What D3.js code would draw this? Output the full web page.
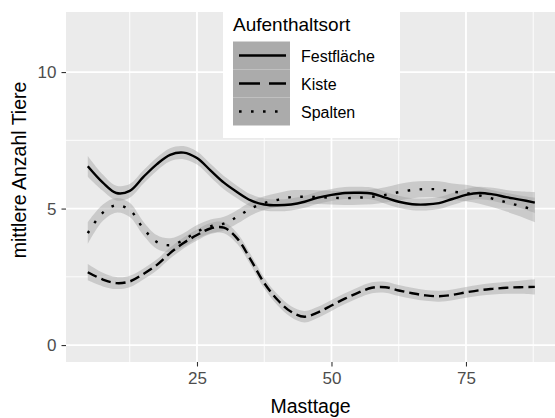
<!DOCTYPE html>
<html>
<head>
<meta charset="utf-8">
<script src="https://cdn.jsdelivr.net/npm/d3@7"></script>
<style>
    body { margin: 0; background: #fff; }
    svg { display: block; font-family: 'Liberation Sans', Arial, sans-serif; }
</style>
</head>
<body>
<div id="chart"></div>
<script>
const masttage = [4.7, 7.5, 10, 12.5, 15, 17.5, 20, 22.5, 25, 27.5, 30, 32.5, 35, 37.5, 40, 42.5, 45,
    47.5, 50, 52.5, 55, 57.5, 60, 62.5, 65, 67.5, 70, 72.5, 75, 77.5, 80, 82.5, 85, 87.8];

const festflaeche = [6.55, 5.95, 5.57, 5.65, 6.15, 6.62, 6.97, 7.05, 6.85, 6.4, 5.95, 5.6, 5.3, 5.15, 5.12, 5.15, 5.25,
    5.4, 5.5, 5.57, 5.58, 5.55, 5.4, 5.25, 5.16, 5.15, 5.2, 5.35, 5.5, 5.57, 5.52, 5.42, 5.33, 5.22];
const festflaecheSe = [0.38, 0.3, 0.27, 0.25, 0.24, 0.24, 0.24, 0.24, 0.24, 0.24, 0.24, 0.23, 0.22, 0.22, 0.22, 0.22, 0.22,
    0.22, 0.22, 0.22, 0.22, 0.22, 0.22, 0.22, 0.22, 0.22, 0.22, 0.22, 0.22, 0.23, 0.24, 0.26, 0.3, 0.38];

const kiste = [2.67, 2.4, 2.27, 2.33, 2.6, 2.93, 3.37, 3.74, 4.03, 4.27, 4.3, 3.9, 3.12, 2.27, 1.65, 1.22, 1.04,
    1.2, 1.45, 1.7, 1.92, 2.1, 2.12, 2.0, 1.9, 1.82, 1.79, 1.84, 1.93, 2.01, 2.06, 2.1, 2.12, 2.13];
const kisteSe = [0.3, 0.25, 0.22, 0.21, 0.2, 0.2, 0.2, 0.2, 0.2, 0.2, 0.2, 0.2, 0.2, 0.2, 0.2, 0.2, 0.21,
    0.2, 0.2, 0.2, 0.2, 0.2, 0.2, 0.2, 0.2, 0.2, 0.2, 0.2, 0.2, 0.2, 0.21, 0.22, 0.24, 0.28];

const spalten = [4.1, 4.85, 5.12, 4.95, 4.28, 3.78, 3.66, 3.85, 4.15, 4.35, 4.45, 4.7, 5.0, 5.2, 5.32, 5.42, 5.43,
    5.42, 5.4, 5.38, 5.4, 5.43, 5.5, 5.6, 5.68, 5.71, 5.7, 5.62, 5.57, 5.48, 5.36, 5.23, 5.1, 4.95];
const spaltenSe = [0.4, 0.3, 0.27, 0.26, 0.25, 0.25, 0.25, 0.25, 0.25, 0.25, 0.25, 0.25, 0.25, 0.25, 0.25, 0.25, 0.25,
    0.25, 0.25, 0.25, 0.26, 0.27, 0.28, 0.3, 0.3, 0.3, 0.3, 0.3, 0.3, 0.3, 0.31, 0.34, 0.38, 0.45];

const seriesNames = ['Festfläche', 'Kiste', 'Spalten'];
const xTicks = [25, 50, 75];
const yTicks = [0, 5, 10];
const xMinor = [12.5, 37.5, 62.5, 87.5];
const yMinor = [2.5, 7.5];

const series = [
    { name: seriesNames[0], values: festflaeche, se: festflaecheSe, dash: null, legendDash: null },
    { name: seriesNames[1], values: kiste, se: kisteSe, dash: '10,5', legendDash: '21,9' },
    { name: seriesNames[2], values: spalten, se: spaltenSe, dash: '2.6,9.4', legendDash: '2.6,9.4' }
];

function drawChart() {
    const width = 555;
    const height = 418;
    const panel = { left: 66, right: 555, top: 12, bottom: 362 };

    const svg = d3.select('#chart').append('svg')
        .attr('width', width)
        .attr('height', height);

    const x = d3.scaleLinear().domain([0.65, 91.55]).range([panel.left, panel.right]);
    const y = d3.scaleLinear().domain([-0.62, 12.2]).range([panel.bottom, panel.top]);

    svg.append('rect')
        .attr('x', panel.left)
        .attr('y', panel.top)
        .attr('width', panel.right - panel.left)
        .attr('height', panel.bottom - panel.top)
        .attr('fill', '#ebebeb');

    // minor grid first, then major
    svg.selectAll('.xminor').data(xMinor).enter().append('line')
        .attr('x1', d => x(d)).attr('x2', d => x(d))
        .attr('y1', panel.top).attr('y2', panel.bottom)
        .attr('stroke', '#fff').attr('stroke-width', 0.9);
    svg.selectAll('.yminor').data(yMinor).enter().append('line')
        .attr('x1', panel.left).attr('x2', panel.right)
        .attr('y1', d => y(d)).attr('y2', d => y(d))
        .attr('stroke', '#fff').attr('stroke-width', 0.9);
    svg.selectAll('.xmajor').data(xTicks).enter().append('line')
        .attr('x1', d => x(d)).attr('x2', d => x(d))
        .attr('y1', panel.top).attr('y2', panel.bottom)
        .attr('stroke', '#fff').attr('stroke-width', 1.8);
    svg.selectAll('.ymajor').data(yTicks).enter().append('line')
        .attr('x1', panel.left).attr('x2', panel.right)
        .attr('y1', d => y(d)).attr('y2', d => y(d))
        .attr('stroke', '#fff').attr('stroke-width', 1.8);

    const area = d3.area()
        .x(d => x(d.x))
        .y0(d => y(d.v - d.se))
        .y1(d => y(d.v + d.se))
        .curve(d3.curveCatmullRom);

    const line = d3.line()
        .x(d => x(d.x))
        .y(d => y(d.v))
        .curve(d3.curveCatmullRom);

    const rows = series.map(s => masttage.map((m, i) => ({ x: m, v: s.values[i], se: s.se[i] })));

    rows.forEach(r => {
        svg.append('path')
            .attr('d', area(r))
            .attr('fill', '#999')
            .attr('fill-opacity', 0.4);
    });

    rows.forEach((r, i) => {
        svg.append('path')
            .attr('d', line(r))
            .attr('fill', 'none')
            .attr('stroke', '#000')
            .attr('stroke-width', 2.4)
            .attr('stroke-dasharray', series[i].dash);
    });

    // axes
    const xAxis = svg.append('g')
        .attr('transform', `translate(0,${panel.bottom})`)
        .call(d3.axisBottom(x).tickValues(xTicks).tickSize(4.5).tickPadding(5));
    const yAxis = svg.append('g')
        .attr('transform', `translate(${panel.left},0)`)
        .call(d3.axisLeft(y).tickValues(yTicks).tickSize(4.5).tickPadding(5));

    [xAxis, yAxis].forEach(a => {
        a.select('.domain').remove();
        a.selectAll('.tick line').attr('stroke', '#333').attr('stroke-width', 1.1);
        a.selectAll('.tick text')
            .attr('fill', '#4d4d4d')
            .style('font-size', '17px')
            .style('font-family', "'Liberation Sans', Arial, sans-serif");
    });

    svg.append('text')
        .attr('x', (panel.left + panel.right) / 2)
        .attr('y', 413)
        .attr('text-anchor', 'middle')
        .style('font-size', '19.5px')
        .text('Masttage');

    svg.append('text')
        .attr('transform', 'translate(26,170) rotate(-90)')
        .attr('text-anchor', 'middle')
        .style('font-size', '19.5px')
        .text('mittlere Anzahl Tiere');

    // legend
    const legend = svg.append('g');
    legend.append('rect')
        .attr('x', 223).attr('y', 0)
        .attr('width', 177).attr('height', 138)
        .attr('fill', '#fff');
    legend.append('text')
        .attr('x', 233).attr('y', 31)
        .style('font-size', '19px')
        .text('Aufenthaltsort');

    const keyH = 28;
    const keyTop = 41.5;
    series.forEach((s, i) => {
        const ky = keyTop + i * keyH;
        legend.append('rect')
            .attr('x', 233).attr('y', ky)
            .attr('width', 57).attr('height', keyH)
            .attr('fill', '#ababab');
        legend.append('line')
            .attr('x1', 239).attr('x2', 286)
            .attr('y1', ky + keyH / 2).attr('y2', ky + keyH / 2)
            .attr('stroke', '#000')
            .attr('stroke-width', 2.6)
            .attr('stroke-dasharray', s.legendDash);
        legend.append('text')
            .attr('x', 301).attr('y', ky + keyH / 2 + 6)
            .style('font-size', '16px')
            .text(s.name);
    });
}

drawChart();
</script>
</body>
</html>
